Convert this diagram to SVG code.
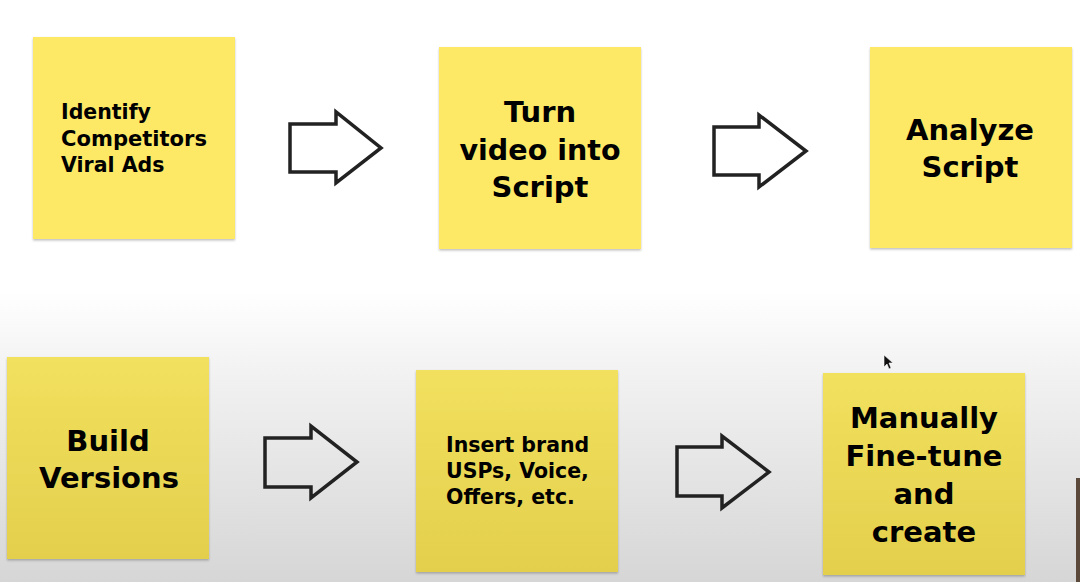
<svg xmlns="http://www.w3.org/2000/svg" width="1080" height="582" viewBox="0 0 1080 582">
  <defs>
    <linearGradient id="bg" x1="0" y1="0" x2="0" y2="582" gradientUnits="userSpaceOnUse">
      <stop offset="0" stop-color="#ffffff"/>
      <stop offset="0.5" stop-color="#ffffff"/>
      <stop offset="0.65" stop-color="#f1f1f1"/>
      <stop offset="1" stop-color="#d6d6d6"/>
    </linearGradient>
    <linearGradient id="noteLow" x1="0" y1="0" x2="0" y2="1">
      <stop offset="0" stop-color="#f2e15e"/>
      <stop offset="1" stop-color="#e3cf4c"/>
    </linearGradient>
    <filter id="sh" x="-5%" y="-5%" width="110%" height="115%">
      <feDropShadow dx="0" dy="1.5" stdDeviation="1" flood-color="#000" flood-opacity="0.25"/>
    </filter>
  </defs>
  <style>
    .noteTop { fill: #fde966; filter: url(#sh); }
    .noteLow { fill: url(#noteLow); filter: url(#sh); }
    .t { font-family: "DejaVu Sans", "Liberation Sans", sans-serif; font-weight: bold; fill: #000; }
    .s { font-size: 20.5px; }
    .b { font-size: 29px; text-anchor: middle; }
    .arrow { fill: none; stroke: #222; stroke-width: 3.5; stroke-linejoin: miter; }
  </style>
  <rect x="0" y="0" width="1080" height="582" fill="url(#bg)"/>

  <g id="node-identify">
    <rect class="noteTop" x="33" y="37" width="202" height="202"/>
    <text class="t s" x="61" y="119">Identify</text>
    <text class="t s" x="61" y="146" textLength="146" lengthAdjust="spacingAndGlyphs">Competitors</text>
    <text class="t s" x="61" y="172">Viral Ads</text>
  </g>
  <g id="node-turn">
    <rect class="noteTop" x="439" y="47" width="202" height="202"/>
    <text class="t b" x="540" y="122">Turn</text>
    <text class="t b" x="540" y="160" textLength="161" lengthAdjust="spacingAndGlyphs">video into</text>
    <text class="t b" x="540" y="197">Script</text>
  </g>
  <g id="node-analyze">
    <rect class="noteTop" x="870" y="47" width="202" height="201"/>
    <text class="t b" x="970" y="140">Analyze</text>
    <text class="t b" x="970" y="177">Script</text>
  </g>
  <g id="node-build">
    <rect class="noteLow" x="7" y="357" width="202" height="202"/>
    <text class="t b" x="108" y="451">Build</text>
    <text class="t b" x="109" y="488">Versions</text>
  </g>
  <g id="node-insert">
    <rect class="noteLow" x="416" y="370" width="202" height="202"/>
    <text class="t s" x="446" y="452">Insert brand</text>
    <text class="t s" x="446" y="478">USPs, Voice,</text>
    <text class="t s" x="446" y="504">Offers, etc.</text>
  </g>
  <g id="node-manually">
    <rect class="noteLow" x="823" y="373" width="202" height="202"/>
    <text class="t b" x="924" y="428">Manually</text>
    <text class="t b" x="924" y="466">Fine-tune</text>
    <text class="t b" x="924" y="504">and</text>
    <text class="t b" x="924" y="542">create</text>
  </g>

  <g id="connectors">
    <polygon class="arrow" points="290,124 336,124 336,112 381,148 336,183 336,172 290,172"/>
    <polygon class="arrow" points="714,127 759,127 759,115 806,151 759,187 759,175 714,175"/>
    <polygon class="arrow" points="265,438 311,438 311,426 357,462 311,498 311,487 265,487"/>
    <polygon class="arrow" points="677,447 722,447 722,436 769,472 722,508 722,496 677,496"/>
  </g>

  <polygon points="884,355 884,367 887,364 889,369 891,368 889,363 893,363" fill="#111" stroke="#fff" stroke-width="0.6"/>
  <rect x="1076" y="478" width="4" height="104" fill="#5b4a3c"/>
</svg>
